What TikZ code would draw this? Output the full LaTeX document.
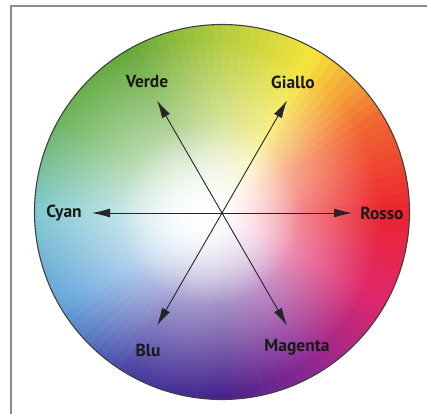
\documentclass[tikz,border=0pt]{standalone}
\usepackage{fontspec}
\setmainfont{PT Sans}
\usetikzlibrary{arrows.meta,fadings}
\definecolor{h0}{RGB}{236,36,48}
\definecolor{h30}{RGB}{242,100,50}
\definecolor{h60}{RGB}{246,228,60}
\definecolor{h90}{RGB}{180,205,62}
\definecolor{h120}{RGB}{100,168,55}
\definecolor{h150}{RGB}{100,176,82}
\definecolor{h180}{RGB}{118,196,205}
\definecolor{h210}{RGB}{85,155,218}
\definecolor{h240}{RGB}{62,52,158}
\definecolor{h270}{RGB}{72,34,140}
\definecolor{h300}{RGB}{142,40,148}
\definecolor{h330}{RGB}{222,40,108}
\tikzfading[name=whitefade, inner color=transparent!0, outer color=transparent!100]
\begin{document}
\begin{tikzpicture}[x=1bp,y=1bp,
  arr/.style={draw=black!85, line width=0.9bp, -{Latex[length=18bp,width=9bp]}},
  lab/.style={font=\fontsize{17.5}{19}\selectfont\bfseries, text=black!90, inner sep=1bp}]
\useasboundingbox (0,0) rectangle (427,414);
\fill[white] (0,0) rectangle (427,414);
\coordinate (wc) at (222,202);
\coordinate (o) at (222,201);
% hue wedges
\foreach \ca/\cb/\s in {h0/h30/0, h30/h60/30, h60/h90/60, h90/h120/90, h120/h150/120, h150/h180/150, h180/h210/180, h210/h240/210, h240/h270/240, h270/h300/270, h300/h330/300, h330/h0/330}{
  \foreach \i in {0,...,9}{
    \pgfmathtruncatemacro{\p}{95-10*\i}
    \pgfmathsetmacro{\st}{\s+3*\i}
    \fill[\ca!\p!\cb] (wc) -- ++(\st:187.5) arc[start angle=\st, delta angle=3.4, radius=187.5] -- cycle;
  }
}
% white centre
\begin{scope}
  \clip (wc) circle (187.5);
  \fill[white, path fading=whitefade] (200,198) circle (180);
  \fill[white, path fading=whitefade] (210,200) circle (90);
\end{scope}
\draw[black!75, line width=1.1bp] (wc) circle (187.5);
% frame
\draw[black!45, line width=1.6bp] (11,0) -- (11,408) -- (427,408);
% arrow tips
\path (o) ++(0:130) coordinate (tR);
\path (o) ++(60:130) coordinate (tG);
\path (o) ++(120:130) coordinate (tV);
\path (o) ++(180:130) coordinate (tC);
\path (o) ++(240:130) coordinate (tB);
\path (o) ++(300:130) coordinate (tM);
\foreach \t in {tR,tG,tV,tC,tB,tM} \draw[arr] (o) -- (\t);
% labels
\node[lab] (rosso) at (382,201) {Rosso};
\node[lab] (cyan) at (64,201) {Cyan};
\node[lab] (giallo) at (293,332) {Giallo};
\node[lab] (verde) at (147,332) {Verde};
\node[lab] (blu) at (148,64) {Blu};
\node[lab] (magenta) at (297,67) {Magenta};
\end{tikzpicture}
\end{document}
